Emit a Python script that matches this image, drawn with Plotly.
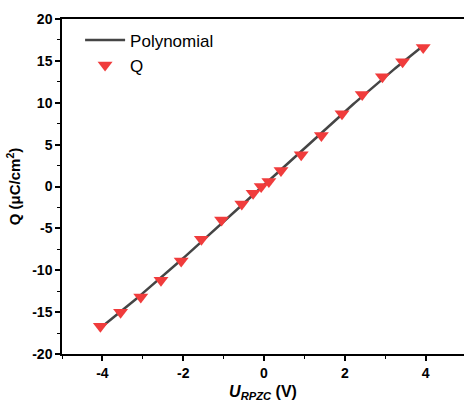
import numpy as np
import plotly.graph_objects as go

# Measured charge density versus potential relative to the PZC
u_rpzc = [-4.05, -3.55, -3.05, -2.55, -2.05, -1.55, -1.05, -0.55, -0.27, -0.07,
          0.12, 0.42, 0.92, 1.42, 1.93, 2.43, 2.93, 3.43, 3.94]
q_vals = [-16.7, -15.0, -13.2, -11.2, -8.9, -6.3, -4.0, -2.1, -0.8, 0.0,
          0.6, 1.9, 3.8, 6.1, 8.7, 11.0, 13.1, 14.9, 16.6]

x_ticks = [-4, -2, 0, 2, 4]
y_ticks = [-20, -15, -10, -5, 0, 5, 10, 15, 20]

# Cubic polynomial fit of the measured points
coef = np.polyfit(u_rpzc, q_vals, 3)
x_fit = np.linspace(min(u_rpzc), max(u_rpzc), 200)
y_fit = np.polyval(coef, x_fit)

font_family = "Liberation Sans, Arial, sans-serif"

fig = go.Figure()
fig.add_trace(go.Scatter(
    x=x_fit, y=y_fit, mode="lines", name="Polynomial",
    line=dict(color="#454545", width=2.5),
))
fig.add_trace(go.Scatter(
    x=u_rpzc, y=q_vals, mode="markers", name="Q",
    marker=dict(symbol="triangle-down", size=13, color="#F03C3C",
                line=dict(width=0)),
))

fig.update_layout(
    width=464, height=408,
    margin=dict(l=62, r=0, t=19, b=54),
    paper_bgcolor="white", plot_bgcolor="white",
    font=dict(family=font_family, size=14, color="black"),
    showlegend=True,
    legend=dict(x=0.045, y=0.99, xanchor="left", yanchor="top",
                bgcolor="rgba(0,0,0,0)", font=dict(size=17),
                tracegroupgap=0, itemwidth=40),
    xaxis=dict(
        range=[-5, 4.95], tickvals=x_ticks,
        ticktext=[f"<b>{v}</b>" for v in x_ticks],
        showgrid=False, zeroline=False,
        showline=True, linecolor="black", linewidth=1.5, mirror=True,
        ticks="outside", ticklen=5, tickwidth=1.5, tickcolor="black",
        minor=dict(dtick=1, tick0=-5, ticks="outside", ticklen=3,
                   tickwidth=1.2, tickcolor="black", showgrid=False),
        tickfont=dict(size=14),
        title=dict(text="<b><i>U</i><sub><i>RPZC</i></sub> (V)</b>",
                   font=dict(size=16), standoff=6),
    ),
    yaxis=dict(
        range=[-20, 20], tickvals=y_ticks,
        ticktext=[f"<b>{v}</b>" for v in y_ticks],
        showgrid=False, zeroline=False,
        showline=True, linecolor="black", linewidth=1.5, mirror=False,
        ticks="outside", ticklen=5, tickwidth=1.5, tickcolor="black",
        minor=dict(dtick=2.5, tick0=0, ticks="outside", ticklen=3,
                   tickwidth=1.2, tickcolor="black", showgrid=False),
        tickfont=dict(size=14),
        title=dict(text="<b>Q (μC/cm<sup>2</sup>)</b>",
                   font=dict(size=15), standoff=8),
    ),
)

fig.write_html("out.html")
